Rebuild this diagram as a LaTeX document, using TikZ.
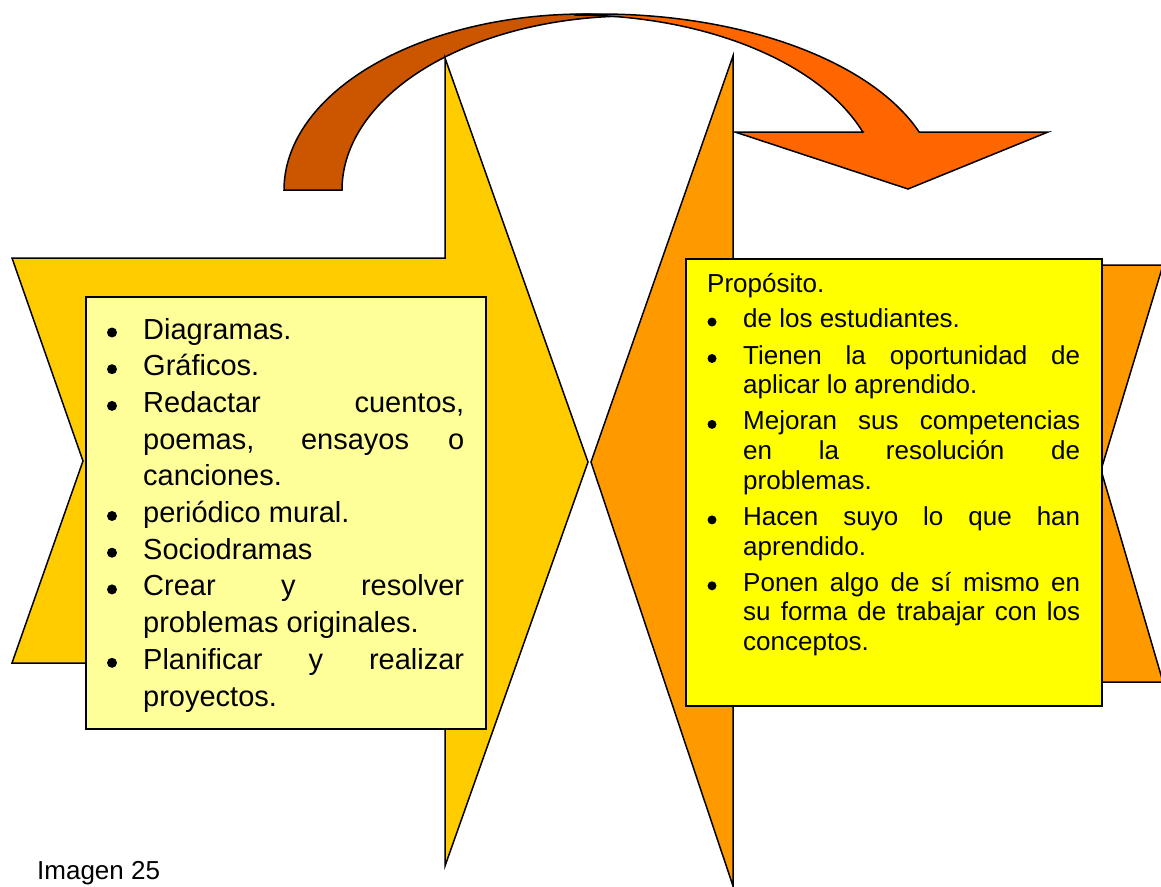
\documentclass[tikz,border=0pt]{standalone}
\usepackage{fontspec}
\setmainfont{Liberation Sans}
\definecolor{bandDark}{HTML}{CC5500}
\definecolor{bandLight}{HTML}{FF6600}
\definecolor{leftArrow}{HTML}{FFCC00}
\definecolor{rightArrow}{HTML}{FF9900}
\definecolor{leftBox}{HTML}{FFFF99}
\definecolor{rightBox}{HTML}{FFFF00}
\newcommand{\JL}[2]{\makebox[#1][s]{#2}}
\begin{document}
\begin{tikzpicture}[x=1pt,y=-1pt,
  outl/.style={draw=black,line width=1.5pt,line join=miter},
  boxL/.style={outl,fill=leftBox,inner sep=0pt,anchor=north west},
  boxR/.style={outl,fill=rightBox,inner sep=0pt,anchor=north west},
  ltxt/.style={inner sep=0pt,anchor=base west,font=\fontsize{29}{36.7}\selectfont},
  rtxt/.style={inner sep=0pt,anchor=base west,font=\fontsize{26}{30}\selectfont},
  dotL/.style={fill=black,circle,inner sep=0pt,minimum size=10pt},
  dotR/.style={fill=black,circle,inner sep=0pt,minimum size=9pt}]
\useasboundingbox (0,0) rectangle (1161,886);
\clip (0,0) rectangle (1161,886);
% curved arrow: back band
\path[outl,fill=bandDark] (284,190)
  -- plot[domain=180:270,samples=80] ({585+301*cos(\x)},{190+176*sin(\x)})
  -- plot[domain=270:180,samples=80] ({632+290*cos(\x)},{190+174*sin(\x)})
  -- cycle;
% curved arrow: front band with head
\path[outl,fill=bandLight] (575,15)
  -- plot[domain=266:340.8,samples=80] ({600+338*cos(\x)},{190+176*sin(\x)})
  -- (1048,132) -- (908,189) -- (735,132) -- (863,132)
  -- plot[domain=340.7:270,samples=80] ({575+305*cos(\x)},{190+175*sin(\x)})
  -- cycle;
% left chevron
\path[outl,fill=leftArrow] (12,258) -- (445,258) -- (445,58) -- (588,462)
  -- (445,866) -- (445,663) -- (12,663) -- (83,461) -- cycle;
% right chevron
\path[outl,fill=rightArrow] (591,462) -- (733,56) -- (733,265) -- (1163,265)
  -- (1101,470) -- (1163,682) -- (733,682) -- (733,886) -- cycle;
% boxes
\node[boxL,minimum width=400pt,minimum height=432pt] (lbox) at (85,296) {};
\node[boxR,minimum width=416pt,minimum height=447pt] (rbox) at (685,258) {};
% left list
\node[dotL] (lb1) at (112,332.5) {};
\node[dotL] (lb2) at (112,369.2) {};
\node[dotL] (lb3) at (112,405.9) {};
\node[dotL] (lb4) at (112,516) {};
\node[dotL] (lb5) at (112,552.7) {};
\node[dotL] (lb6) at (112,589.4) {};
\node[dotL] (lb7) at (112,662.8) {};
\node[ltxt] (l1) at (143,339) {Diagramas.};
\node[ltxt] (l2) at (143,375.7) {Gráficos.};
\node[ltxt] (l3) at (143,412.4) {\JL{321pt}{Redactar cuentos,}};
\node[ltxt] (l4) at (143,449.1) {\JL{321pt}{poemas, ensayos o}};
\node[ltxt] (l5) at (143,485.8) {canciones.};
\node[ltxt] (l6) at (143,522.5) {periódico mural.};
\node[ltxt] (l7) at (143,559.2) {Sociodramas};
\node[ltxt] (l8) at (143,595.9) {\JL{321pt}{Crear y resolver}};
\node[ltxt] (l9) at (143,632.6) {problemas originales.};
\node[ltxt] (l10) at (143,669.3) {\JL{321pt}{Planificar y realizar}};
\node[ltxt] (l11) at (143,706) {proyectos.};
% right list
\node[rtxt] (r0) at (707,292) {Propósito.};
\node[dotR] (rb1) at (712,322) {};
\node[dotR] (rb2) at (712,358.5) {};
\node[dotR] (rb3) at (712,424.4) {};
\node[dotR] (rb4) at (712,519.9) {};
\node[dotR] (rb5) at (712,585.8) {};
\node[rtxt] (r1) at (743,327.5) {de los estudiantes.};
\node[rtxt] (r2) at (743,364) {\JL{337pt}{Tienen la oportunidad de}};
\node[rtxt] (r3) at (743,393.6) {aplicar lo aprendido.};
\node[rtxt] (r4) at (743,429.9) {\JL{337pt}{Mejoran sus competencias}};
\node[rtxt] (r5) at (743,459.5) {\JL{337pt}{en la resolución de}};
\node[rtxt] (r6) at (743,489.1) {problemas.};
\node[rtxt] (r7) at (743,525.4) {\JL{337pt}{Hacen suyo lo que han}};
\node[rtxt] (r8) at (743,555) {aprendido.};
\node[rtxt] (r9) at (743,591.3) {\JL{337pt}{Ponen algo de sí mismo en}};
\node[rtxt] (r10) at (743,620.9) {\JL{337pt}{su forma de trabajar con los}};
\node[rtxt] (r11) at (743,650.5) {conceptos.};
% caption
\node[rtxt] (cap) at (37,879) {Imagen 25};
\end{tikzpicture}
\end{document}
